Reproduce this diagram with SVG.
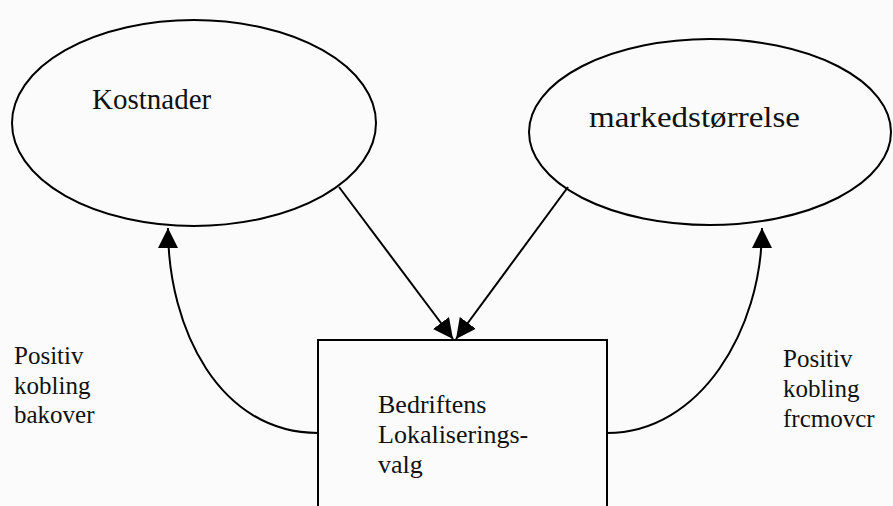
<svg xmlns="http://www.w3.org/2000/svg" width="893" height="506" viewBox="0 0 893 506">
<defs>
<style>
.shape{fill:none;stroke:#000;stroke-width:2}
.conn{fill:none;stroke:#000;stroke-width:2}
.t{font-family:"Liberation Serif","Times New Roman",serif;fill:#111}
</style>
<marker id="ah" markerUnits="userSpaceOnUse" markerWidth="22" markerHeight="22" refX="20" refY="10" orient="auto" viewBox="0 0 22 20">
<polygon points="0,0 20,10 0,20" fill="#000"/>
</marker>
</defs>
<rect width="893" height="506" fill="#fbfbfb"/>
<g id="kostnader">
<ellipse class="shape" cx="194" cy="123" rx="182" ry="103"/>
<text class="t" x="92" y="109" font-size="29">Kostnader</text>
</g>
<g id="markedstorrelse">
<ellipse class="shape" cx="710" cy="132" rx="181" ry="93"/>
<text class="t" x="589" y="127" font-size="29" textLength="211" lengthAdjust="spacingAndGlyphs">markedstørrelse</text>
</g>
<g id="bedrift">
<rect class="shape" x="318" y="340" width="289" height="180"/>
<text class="t" font-size="26"><tspan x="378" y="413">Bedriftens</tspan><tspan x="378" y="443">Lokaliserings-</tspan><tspan x="378" y="473">valg</tspan></text>
</g>
<g id="label-bakover">
<text class="t" font-size="25"><tspan x="14" y="364">Positiv</tspan><tspan x="14" y="394">kobling</tspan><tspan x="14" y="423">bakover</tspan></text>
</g>
<g id="label-fremover">
<text class="t" font-size="25"><tspan x="783" y="367">Positiv</tspan><tspan x="783" y="397">kobling</tspan><tspan x="783" y="427">frcmovcr</tspan></text>
</g>
<g id="connectors">
<line class="conn" x1="339" y1="187" x2="453" y2="339" marker-end="url(#ah)"/>
<line class="conn" x1="568" y1="187" x2="456" y2="339" marker-end="url(#ah)"/>
<path class="conn" d="M318,433 C220,433 168,330 168,228" marker-end="url(#ah)"/>
<path class="conn" d="M607,433 C700,433 762,330 762,228" marker-end="url(#ah)"/>
</g>
</svg>
